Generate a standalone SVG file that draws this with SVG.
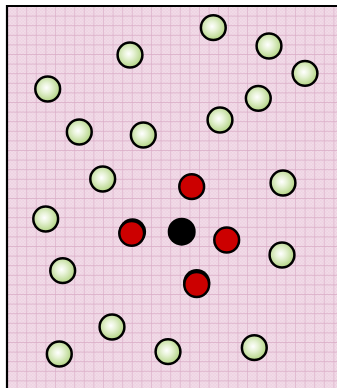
<svg xmlns="http://www.w3.org/2000/svg" width="337" height="388" viewBox="0 0 337 388">
<defs>
<pattern id="fine" x="0" y="0" width="3.2" height="3.2" patternUnits="userSpaceOnUse">
<rect width="3.2" height="3.2" fill="#edd2e2"/>
<rect width="1.6" height="1.6" fill="#f2dce8"/>
<rect x="1.6" y="1.6" width="1.6" height="1.6" fill="#f2dce8"/>
</pattern>
<pattern id="grid" x="7" y="6" width="9.6" height="9.6" patternUnits="userSpaceOnUse">
<path d="M0 0H9.6M0 0V9.6" stroke="#d9aac5" stroke-width="1.2" fill="none"/>
</pattern>
<radialGradient id="g" cx="0.45" cy="0.45" r="0.55">
<stop offset="0" stop-color="#ffffff"/>
<stop offset="0.35" stop-color="#e8f3d8"/>
<stop offset="1" stop-color="#b3d484"/>
</radialGradient>
<style>
.n{fill:url(#g);stroke:#000;stroke-width:2.5}
.r{fill:#cc0000;stroke:#000;stroke-width:2.5}
.s{fill:#000}
</style>
</defs>
<rect width="337" height="388" fill="#ffffff"/>
<rect x="7" y="6" width="330" height="382" fill="url(#fine)"/>
<rect x="7" y="6" width="330" height="382" fill="url(#grid)"/>
<g id="frame" stroke="#000" stroke-width="2.2" fill="none">
<path d="M7 388V6H337"/>
</g>
<g id="connectors"/>
<g id="n1"><circle class="n" cx="213.3" cy="27.7" r="12.4"/></g>
<g id="n2"><circle class="n" cx="269" cy="46" r="12.4"/></g>
<g id="n3"><circle class="n" cx="130" cy="55" r="12.4"/></g>
<g id="n4"><circle class="n" cx="305" cy="73.3" r="12.4"/></g>
<g id="n5"><circle class="n" cx="47.7" cy="89" r="12.4"/></g>
<g id="n6"><circle class="n" cx="258.3" cy="98.3" r="12.4"/></g>
<g id="n7"><circle class="n" cx="79.3" cy="132" r="12.4"/></g>
<g id="n8"><circle class="n" cx="143.3" cy="135" r="12.4"/></g>
<g id="n9"><circle class="n" cx="220" cy="120" r="12.4"/></g>
<g id="n10"><circle class="n" cx="102.7" cy="179" r="12.4"/></g>
<g id="n11"><circle class="n" cx="283" cy="183" r="12.4"/></g>
<g id="n12"><circle class="n" cx="45.7" cy="219" r="12.4"/></g>
<g id="n13"><circle class="n" cx="62.7" cy="270.7" r="12.4"/></g>
<g id="n14"><circle class="n" cx="282" cy="255" r="12.4"/></g>
<g id="n15"><circle class="n" cx="112" cy="327" r="12.4"/></g>
<g id="n16"><circle class="n" cx="59.3" cy="354" r="12.4"/></g>
<g id="n17"><circle class="n" cx="168" cy="351.7" r="12.4"/></g>
<g id="n18"><circle class="n" cx="254.3" cy="347.7" r="12.4"/></g>
<g id="r1"><circle class="r" cx="191.7" cy="186.7" r="12.4"/></g>
<g id="r2"><circle class="s" cx="132.5" cy="231.8" r="13.6"/><circle class="r" cx="131.7" cy="233.3" r="12.4"/></g>
<g id="r3"><circle class="r" cx="226.7" cy="240" r="12.4"/></g>
<g id="r4"><circle class="s" cx="196.7" cy="282.5" r="13.6"/><circle class="r" cx="196.7" cy="284.5" r="12.4"/></g>
<g id="center"><circle class="s" cx="181.7" cy="231.7" r="14"/></g>
</svg>
